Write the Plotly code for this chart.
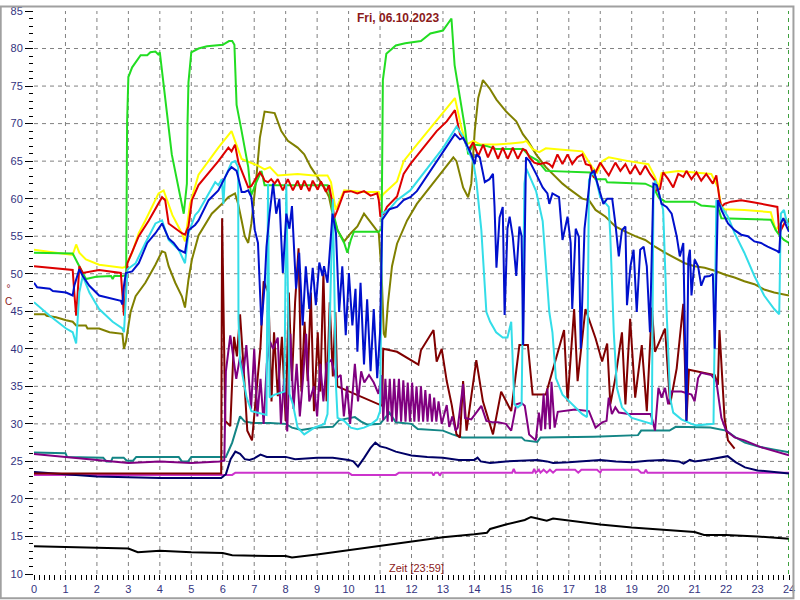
import plotly.graph_objects as go

# ---------------- data (hours, °C) ----------------
YELLOW_T = [0, 1.23, 1.34, 1.44, 1.65, 2.07, 2.81, 2.9, 3.12, 3.33, 3.54, 3.96, 4.12, 4.2, 4.4, 4.7, 4.8, 4.96, 5.12, 5.23,
            5.86, 6.28, 6.39, 6.5, 6.6, 7.12, 7.33, 7.5, 7.75, 8.38, 8.9, 9.33, 9.44, 9.59, 9.86, 10.49, 10.96, 11.01, 11.1,
            11.54, 11.75, 12.17, 12.59, 13.01, 13.38, 13.59, 13.75, 13.96, 14.2, 14.7, 15.54, 15.65, 15.85, 16.06, 16.27,
            16.8, 17.43, 17.74, 17.9, 18.06, 18.27, 18.9, 19.53, 19.74, 19.85, 19.95, 20.48, 21.0, 21.53, 21.74, 21.85,
            21.95, 22.58, 23.42, 23.58, 23.7, 23.84, 24]
YELLOW_V = [53.2, 52.5, 53.9, 52.8, 51.9, 51.2, 50.8, 50.9, 52.8, 55.4, 57.1, 60.7, 61.1, 60.2, 57.8, 55.4, 54.3, 59.3, 61.5, 63.2,
            66.8, 69.0, 67.7, 66.5, 65.3, 64.4, 63.9, 64.2, 63.1, 63.3, 63.1, 63.1, 62.2, 58.5, 61.1, 60.9, 60.9, 59.8, 60.6,
            62.3, 65.0, 67.2, 69.4, 71.6, 73.4, 69.4, 67.2, 67.7, 67.2, 67.2, 67.5, 67.7, 66.6, 66.2, 66.7,
            66.5, 66.3, 64.2, 63.5, 65.0, 65.5, 65.0, 64.6, 62.9, 61.5, 63.4, 63.7, 63.5, 63.3, 61.5, 58.9,
            58.6, 58.5, 58.2, 55.8, 56.5, 57.3, 57.0]

RED_T = [0, 1.23, 1.28, 1.34, 1.39, 1.44, 1.55, 2.07, 2.76, 2.81, 2.86, 2.97, 3.33, 3.65, 4.07, 4.17, 4.28, 4.7, 4.8, 4.91,
         5.02, 5.23, 5.86, 6.18, 6.28, 6.39, 6.5, 6.81, 6.91, 7.07, 7.18, 7.28, 7.33, 7.44, 7.54, 7.65, 7.75, 7.91, 8.07,
         8.23, 8.38, 8.49, 8.59, 8.75, 8.86, 9.02, 9.12, 9.28, 9.38, 9.49, 9.54, 9.65, 9.86, 10.07, 10.28, 10.49, 10.7,
         10.91, 10.96, 11.01, 11.12, 11.22, 11.54, 11.75, 11.96, 12.38, 12.8, 13.12, 13.38, 13.54, 13.7, 13.8, 13.96,
         14.12, 14.28, 14.43, 14.59, 14.75, 14.9, 15.06, 15.22, 15.38, 15.54, 15.64, 15.75, 15.9, 16.06, 16.27, 16.38,
         16.48, 16.64, 16.8, 16.96, 17.11, 17.27, 17.43, 17.54, 17.69, 17.8, 17.85, 18.0, 18.17, 18.27, 18.48, 18.64,
         18.8, 18.95, 19.11, 19.27, 19.43, 19.58, 19.74, 19.8, 19.9, 20.0, 20.16, 20.32, 20.48, 20.64, 20.74, 20.9,
         21.06, 21.21, 21.37, 21.58, 21.69, 21.79, 21.85, 21.95, 22.16, 22.48, 22.9, 23.42, 23.63, 23.69, 23.8, 23.9, 24]
RED_V = [51.0, 50.5, 47.5, 44.4, 47.5, 51.0, 50.1, 50.5, 50.1, 47.5, 44.4, 51.4, 55.0, 57.1, 60.2, 59.8, 56.7, 55.4, 55.2, 56.3,
         59.8, 61.8, 65.0, 66.8, 66.3, 67.2, 64.8, 61.5, 61.7, 62.8, 63.5, 62.9, 62.4, 62.2, 62.6, 62.0, 62.6, 61.1, 62.6,
         61.1, 62.4, 61.2, 62.4, 61.0, 62.4, 61.2, 62.3, 60.9, 61.8, 59.3, 57.4, 58.5, 60.9, 61.0, 60.7, 61.0, 60.4,
         60.7, 59.8, 57.6, 58.0, 58.9, 60.3, 63.3, 64.6, 66.8, 69.0, 70.3, 71.8, 68.6, 67.7, 66.4, 67.5,
         65.7, 67.2, 65.5, 67.0, 65.3, 66.8, 65.3, 66.8, 65.3, 66.6, 66.4, 65.5, 64.8, 64.6, 64.8, 64.6,
         64.2, 65.9, 64.6, 65.9, 64.6, 65.5, 65.9, 64.6, 64.4, 62.8, 63.5, 64.8, 63.7, 63.1, 64.8, 63.7,
         64.6, 63.3, 64.4, 63.2, 64.4, 63.3, 62.4, 61.1, 61.3, 63.5, 62.6, 61.5, 63.3, 62.9, 63.7, 62.6,
         63.5, 62.4, 63.3, 62.0, 63.1, 60.0, 58.9, 59.3, 59.6, 59.8, 59.5, 59.1, 58.9, 55.4, 56.3, 57.1, 56.7]

LIME_T = [0, 1.23, 1.44, 1.65, 1.97, 2.45, 2.5, 2.55, 2.81, 2.93, 2.96, 3.0, 3.12, 3.39, 3.6, 3.7, 3.86, 3.95, 4.0, 4.05,
          4.38, 4.76, 4.86, 4.88, 4.91, 5.0, 5.23, 5.5, 6.0, 6.2, 6.3, 6.37, 6.44, 6.6, 6.81, 6.9, 7.0, 7.07, 7.23, 7.33,
          9.33, 9.38, 9.49, 9.65, 9.86, 9.96, 10.07, 10.17, 10.96, 11.01, 11.05, 11.09, 11.2, 11.5, 11.8, 12.3, 12.6,
          13.0, 13.27, 13.37, 13.7, 13.8, 13.96, 14.4, 14.7, 15.54, 15.75, 16.0, 16.27, 17.69, 17.85, 18.17, 18.22,
          19.43, 19.69, 19.85, 20.06, 21.0, 21.21, 21.74, 21.85, 23.42, 23.58, 23.7, 23.84, 24]
LIME_V = [52.8, 52.7, 51.0, 49.3, 49.6, 49.7, 49.3, 49.7, 49.7, 49.8, 70.3, 76.2, 77.5, 79.1, 79.1, 79.5, 79.6, 79.2, 79.5, 77.8,
          65.9, 58.0, 62.0, 70.0, 75.5, 79.5, 80.0, 80.3, 80.5, 81.0, 81.0, 80.5, 72.5, 69.0, 64.2, 60.4, 61.5, 62.2, 63.7, 61.8,
          61.8, 61.1, 58.5, 55.8, 54.1, 52.8, 54.5, 55.6, 55.6, 55.8, 56.0, 75.8, 79.3, 80.4, 80.7, 81.0, 82.0,
          82.4, 84.0, 77.8, 69.4, 65.9, 67.2, 67.0, 66.6, 66.6, 65.7, 65.1, 63.7, 63.5, 62.6, 62.6, 62.2,
          62.0, 61.5, 60.2, 59.6, 59.6, 59.1, 58.9, 57.4, 57.2, 55.8, 55.1, 54.5, 54.1]

CYAN_T = [0, 0.5, 1.02, 1.23, 1.34, 1.44, 1.55, 1.76, 2.07, 2.5, 2.81, 2.86, 2.97, 3.23, 3.54, 3.86, 4.07, 4.28, 4.6, 4.8,
          4.91, 5.12, 5.23, 5.76, 5.86, 5.97, 6.02, 6.07, 6.28, 6.39, 6.49, 6.5, 6.55, 6.76, 6.91, 7.23, 7.39, 7.44, 7.49,
          7.65, 7.96, 8.02, 8.12, 8.23, 8.38, 8.59, 8.91, 9.23, 9.33, 9.44, 9.5, 9.6, 9.65, 9.86, 10.07, 10.28, 10.49,
          10.7, 10.91, 11.0, 11.07, 11.3, 11.54, 11.96, 12.59, 13.01, 13.43, 13.54, 13.64, 13.8, 13.96, 14.06, 14.22,
          14.38, 14.5, 14.69, 14.9, 15.05, 15.17, 15.27, 15.38, 15.5, 15.59, 15.65, 15.96, 16.17, 16.38, 16.48, 16.59,
          16.8, 17.11, 17.43, 17.58, 17.64, 17.75, 17.85, 18.0, 18.17, 18.27, 18.32, 18.43, 18.53, 18.69, 19.0, 19.32,
          19.64, 19.69, 19.74, 19.85, 20.0, 20.11, 20.22, 20.32, 20.58, 20.9, 21.06, 21.6, 21.69, 21.79, 22.06, 22.27,
          22.58, 22.9, 23.21, 23.53, 23.69, 23.74, 23.84, 23.9, 24]
CYAN_V = [46.2, 44.4, 42.7, 42.2, 40.7, 47.5, 49.7, 47.5, 45.3, 43.6, 42.7, 42.2, 50.6, 51.4, 54.1, 56.7, 57.1, 54.5, 53.2, 51.4,
          55.4, 57.8, 58.3, 62.2, 61.8, 62.6, 59.3, 62.8, 64.8, 65.0, 64.2, 44.0, 38.3, 33.5, 31.7, 31.3, 31.2, 62.0, 33.5,
          33.9, 34.3, 62.0, 34.0, 32.6, 29.5, 28.6, 29.5, 30.0, 31.3, 50.0, 60.0, 35.0, 30.8, 30.4, 29.5, 29.3, 29.5,
          29.9, 30.6, 31.7, 58.0, 58.6, 59.8, 61.1, 64.6, 66.8, 69.6, 68.9, 68.3, 66.4, 65.0, 62.4, 55.8,
          44.9, 43.6, 42.2, 41.5, 41.5, 43.6, 32.6, 32.2, 32.6, 62.0, 64.0, 61.0, 57.0, 44.9, 42.2, 36.1,
          33.9, 32.6, 31.3, 30.9, 62.5, 63.5, 62.9, 60.2, 59.3, 58.9, 55.0, 42.2, 34.8, 32.2, 30.8, 30.4,
          30.0, 60.0, 62.4, 61.0, 58.5, 45.0, 33.5, 31.5, 30.6, 30.0, 29.8, 30.0, 59.8, 59.3, 57.6, 55.4,
          52.8, 49.7, 47.1, 45.3, 44.6, 58.0, 58.5, 57.4, 56.3]

BLUE_T = [0, 0.1, 0.5, 0.6, 1.02, 1.23, 1.28, 1.44, 1.55, 1.76, 2.07, 2.3, 2.6, 2.76, 2.81, 2.86, 2.92, 3.12, 3.33, 3.6,
          3.86, 4.07, 4.28, 4.44, 4.6, 4.7, 4.8, 4.91, 5.12, 5.23, 5.55, 5.86, 6.18, 6.28, 6.44, 6.49, 6.6, 6.7, 6.81,
          6.91, 7.02, 7.12, 7.18, 7.23, 7.33, 7.39, 7.49, 7.6, 7.7, 7.8, 7.91, 8.02, 8.12, 8.2, 8.33, 8.43, 8.54, 8.64,
          8.75, 8.86, 8.96, 9.07, 9.17, 9.22, 9.33, 9.49, 9.6, 9.7, 9.8, 9.91, 10.01, 10.12, 10.22, 10.28, 10.38, 10.49,
          10.59, 10.7, 10.8, 10.91, 11.0, 11.07, 11.3, 11.54, 11.75, 11.96, 12.17, 12.59, 13.01, 13.38, 13.54, 13.64,
          13.8, 13.9, 14.01, 14.06, 14.17, 14.33, 14.48, 14.59, 14.64, 14.7, 14.8, 14.9, 14.96, 15.05, 15.12, 15.22,
          15.33, 15.43, 15.5, 15.55, 15.64, 15.75, 15.96, 16.17, 16.32, 16.38, 16.48, 16.69, 16.8, 16.96, 17.06, 17.11,
          17.22, 17.32, 17.38, 17.5, 17.69, 17.8, 17.85, 18.0, 18.1, 18.22, 18.38, 18.48, 18.59, 18.69, 18.8, 18.85,
          18.96, 19.06, 19.16, 19.27, 19.38, 19.48, 19.58, 19.69, 19.8, 19.95, 20.11, 20.27, 20.43, 20.53, 20.64, 20.74,
          20.8, 20.85, 20.9, 21.0, 21.11, 21.21, 21.32, 21.48, 21.58, 21.64, 21.74, 21.85, 22.06, 22.27, 22.48, 22.69,
          22.9, 23.11, 23.32, 23.63, 23.69, 23.74, 23.82, 23.92, 24]
BLUE_V = [48.8, 48.2, 48.0, 47.7, 47.5, 47.1, 48.4, 50.6, 49.7, 48.4, 47.1, 46.9, 46.6, 46.4, 45.9, 48.4, 50.1, 50.3, 51.4, 54.1,
          55.4, 56.7, 54.7, 54.1, 53.2, 53.0, 52.8, 55.8, 56.5, 57.1, 59.8, 61.1, 63.7, 64.2, 63.7, 62.9, 60.9, 60.9, 61.1,
          60.2, 55.8, 54.1, 48.4, 43.1, 48.4, 53.6, 58.0, 62.0, 58.0, 60.0, 50.1, 58.0, 56.0, 59.0, 48.0, 52.8, 43.1, 51.0,
          45.3, 50.8, 45.8, 51.5, 49.7, 51.0, 48.8, 58.0, 55.4, 44.9, 51.0, 41.8, 50.1, 43.1, 48.0, 39.6, 48.8, 37.9,
          46.6, 37.0, 45.3, 36.1, 42.2, 57.2, 58.6, 58.9, 59.8, 60.2, 61.0, 63.7, 66.4, 68.6, 67.9, 68.1,
          66.8, 65.9, 64.6, 65.9, 65.5, 62.2, 62.6, 63.3, 58.9, 50.8, 57.5, 58.9, 44.5, 56.0, 57.6, 54.9,
          49.7, 56.3, 55.0, 40.5, 65.5, 65.0, 63.3, 61.5, 60.7, 59.3, 60.7, 60.2, 54.5, 57.6, 54.1, 45.3,
          56.0, 54.9, 40.0, 56.0, 63.3, 63.7, 62.9, 60.7, 59.3, 60.0, 60.0, 56.7, 52.3, 55.8, 56.3, 45.8,
          51.0, 53.2, 44.9, 53.2, 53.6, 51.0, 42.2, 62.0, 61.8, 59.3, 58.9, 58.0, 55.0, 52.3, 54.1, 30.4,
          52.0, 53.2, 47.1, 51.9, 51.0, 48.4, 49.6, 49.7, 50.0, 40.0, 59.8, 58.5, 56.7, 55.8, 55.2, 55.0,
          54.3, 54.1, 53.6, 53.0, 52.8, 56.7, 57.4, 56.3, 55.6]

OLIVE_T = [0, 0.35, 0.4, 0.7, 1.02, 1.23, 1.34, 1.65, 1.7, 2.07, 2.4, 2.81, 2.86, 2.92, 3.07, 3.23, 3.54, 3.86, 4.07, 4.17,
           4.28, 4.49, 4.7, 4.8, 4.91, 5.02, 5.23, 5.65, 5.97, 6.18, 6.39, 6.49, 6.6, 6.7, 6.81, 6.91, 7.07, 7.18, 7.33,
           7.65, 7.86, 8.07, 8.38, 8.59, 8.8, 9.02, 9.23, 9.38, 9.49, 9.65, 9.86, 10.07, 10.28, 10.49, 10.64, 10.8, 10.96,
           11.05, 11.12, 11.17, 11.25, 11.38, 11.54, 11.86, 12.17, 12.59, 13.01, 13.33, 13.43, 13.64, 13.8, 13.9, 14.01,
           14.12, 14.27, 14.48, 14.7, 15.01, 15.33, 15.54, 15.7, 15.96, 16.27, 16.59, 16.8, 17.01, 17.22, 17.43, 17.64,
           17.8, 17.85, 18.17, 18.48, 18.8, 19.11, 19.43, 19.74, 20.06, 20.37, 20.69, 21.0, 21.32, 21.64, 21.95, 22.27,
           22.58, 22.9, 23.21, 23.53, 24]
OLIVE_V = [44.6, 44.6, 44.4, 44.2, 43.8, 43.6, 43.1, 43.1, 42.7, 42.7, 42.2, 42.0, 40.0, 40.9, 44.9, 47.0, 48.8, 51.2, 53.0, 52.8,
           51.0, 48.8, 47.0, 45.5, 49.2, 51.9, 55.1, 58.0, 59.3, 60.2, 60.7, 59.3, 57.1, 55.0, 54.1, 56.7, 62.9, 68.1, 71.6,
           71.4, 69.0, 67.7, 66.8, 65.9, 64.2, 62.9, 61.5, 60.2, 58.0, 55.8, 54.3, 55.4, 56.3, 58.0, 57.1, 56.3, 55.4,
           50.0, 42.0, 41.5, 46.0, 51.0, 54.0, 57.1, 59.3, 61.5, 63.7, 65.5, 65.0, 61.5, 60.2, 62.0, 69.0,
           73.4, 75.8, 74.7, 73.2, 71.6, 70.3, 68.6, 67.7, 65.9, 64.2, 62.8, 62.0, 61.3, 60.7, 60.0, 59.8,
           58.9, 58.5, 57.6, 56.3, 55.6, 55.0, 54.5, 53.6, 52.8, 52.1, 51.4, 51.0, 50.8, 50.4, 49.9, 49.5,
           49.0, 48.6, 47.9, 47.5, 47.1]

MAROON_T = [0, 5.95, 5.98, 6.03, 6.08, 6.24, 6.36, 6.45, 6.55, 6.65, 6.78, 6.93, 7.03, 7.2, 7.3, 7.45, 7.55, 7.63, 7.75, 7.88,
            8.0, 8.1, 8.2, 8.3, 8.41, 8.5, 8.6, 8.7, 8.8, 8.9, 9.02, 9.1, 9.2, 9.3, 9.4, 9.5, 9.58, 9.64, 11.07, 11.1,
            11.54, 12.22, 12.3, 12.7, 12.8, 12.96, 13.12, 13.28, 13.43, 13.54, 13.64, 13.75, 14.06, 14.27, 14.59, 14.85,
            15.17, 15.43, 15.7, 15.85, 16.27, 16.85, 16.96, 17.17, 17.28, 17.53, 17.85, 18.06, 18.22, 18.32, 18.48, 18.69,
            18.8, 18.95, 19.11, 19.32, 19.48, 19.64, 19.74, 20.06, 20.22, 20.43, 20.64, 20.74, 20.82, 21.64, 21.74, 21.79,
            21.95, 22.06, 22.27]
MAROON_V = [23.4, 23.4, 57.4, 46.2, 30.4, 29.7, 41.6, 39.0, 44.6, 38.3, 29.1, 27.8, 32.4, 40.3, 49.0, 47.5, 33.0, 42.2, 33.7, 41.6,
            30.4, 47.5, 35.7, 46.2, 53.4, 34.3, 43.6, 35.7, 47.5, 31.7, 42.2, 34.3, 50.1, 33.0, 46.2, 36.3, 44.9, 35.0, 32.4, 40.0,
            39.6, 37.9, 39.8, 42.5, 38.3, 40.0, 35.7, 32.5, 28.6, 28.2, 35.7, 29.1, 38.5, 33.0, 28.6, 34.3,
            31.7, 40.5, 40.5, 33.9, 33.9, 42.5, 33.0, 45.3, 35.7, 45.3, 41.4, 38.3, 40.7, 32.6, 36.1, 42.2,
            32.6, 44.0, 33.5, 40.5, 31.7, 45.5, 39.6, 42.7, 32.6, 37.4, 46.0, 30.4, 37.2, 36.5, 35.2, 42.5,
            30.8, 27.8, 26.7]

PURPLE_T = [0, 1, 2, 3, 4, 5, 5.9, 6.05, 6.1, 6.24, 6.43, 6.55, 6.65, 6.75, 6.9, 7.0, 7.1, 7.2, 7.3, 7.4, 7.5, 7.6, 7.75,
            7.85, 7.95, 8.05, 8.15, 8.25, 8.35, 8.45, 8.55, 8.65, 8.75, 8.9, 9.0, 9.1, 9.2, 9.3, 9.45, 9.6, 9.75, 9.85,
            9.95, 10.05, 10.2, 10.3, 10.4, 10.5, 10.65, 10.8, 10.95, 11.05, 11.1, 11.17, 11.24, 11.31, 11.38, 11.45,
            11.52, 11.6, 11.67, 11.74, 11.81, 11.88, 11.95, 12.02, 12.09, 12.16, 12.23, 12.3, 12.37, 12.44, 12.51,
            12.58, 12.65, 12.72, 12.79, 12.86, 12.96, 13.12, 13.2, 13.3, 13.4, 13.47, 13.64, 13.7, 13.9, 14.22,
            14.38, 14.6, 14.75, 15.0, 15.17, 15.33, 15.49, 15.6, 15.74, 15.85, 15.95, 16.05, 16.12, 16.2, 16.25,
            16.32, 16.4, 16.45, 16.55, 16.65, 16.8, 17.2, 17.64, 17.75, 17.85, 18.06, 18.2, 18.27, 18.37, 18.48,
            18.59, 18.9, 19.6, 19.64, 19.74, 19.85, 19.95, 20.06, 20.16, 20.27, 20.58, 20.9, 21.0, 21.11, 21.21,
            21.53, 21.69, 21.85, 22.0, 22.27, 22.58, 23.1, 23.63, 24]
PURPLE_V = [26.0, 25.6, 25.2, 24.8, 25.0, 24.8, 25.0, 25.1, 37.0, 41.8, 36.0, 39.0, 36.5, 40.5, 32.0, 40.0, 31.0, 36.0, 30.0, 38.0,
            41.0, 40.0, 41.5, 30.0, 36.0, 29.0, 42.0, 32.0, 38.0, 31.0, 36.0, 42.0, 33.0, 35.0, 31.0, 38.0, 33.0, 38.0,
            38.5, 36.0, 36.5, 31.0, 35.0, 30.0, 38.0, 33.0, 37.0, 35.5, 36.5, 35.5, 34.0, 36.5, 30.5, 36.0, 30.3, 36.0,
            30.3, 36.0, 30.3, 36.0, 30.3, 35.8, 30.3, 35.5, 30.3, 35.5, 30.3, 35.0, 30.3, 35.0, 30.3, 34.5, 30.3,
            34.0, 30.3, 33.5, 30.3, 33.0, 30.0, 32.5, 29.6, 31.0, 29.1, 29.5, 35.3, 30.8, 30.6, 32.4,
            30.4, 30.2, 30.2, 30.0, 29.1, 32.6, 32.8, 32.4, 28.6, 28.2, 27.8, 31.5, 29.1, 34.0, 29.3,
            34.7, 29.3, 35.6, 29.5, 31.6, 31.7, 31.9, 31.7, 30.4, 29.5, 30.2, 30.4, 33.5, 31.3, 32.2,
            31.5, 31.3, 31.3, 30.8, 29.1, 34.8, 33.5, 34.8, 32.6, 34.3, 34.3, 33.9, 33.0, 36.1, 36.8,
            36.5, 35.7, 30.8, 29.1, 28.2, 27.8, 26.9, 26.2, 25.8]

TEAL_T = [0, 1.0, 1.05, 2.2, 2.3, 2.45, 2.5, 2.85, 2.95, 3.15, 3.25, 4.6, 4.7, 4.9, 5.0, 6.1, 6.3, 6.55, 6.7, 7.0, 7.5, 8.0,
          8.2, 8.5, 9.0, 9.5, 9.7, 10.2, 10.4, 10.6, 11.0, 11.3, 11.5, 12.0, 12.2, 13.0, 13.3, 13.6, 15.5, 15.6, 16.0,
          16.1, 17.8, 19.0, 19.2, 19.3, 20.2, 20.4, 21.5, 22.0, 22.3, 22.6, 23.0, 23.5, 24]
TEAL_V = [26.2, 26.1, 25.6, 25.5, 25.0, 25.0, 25.5, 25.5, 25.1, 25.1, 25.6, 25.6, 25.0, 25.0, 25.6, 25.6, 27.5, 31.0, 30.3, 30.1, 30.1, 30.0,
          29.5, 29.2, 29.5, 29.6, 30.5, 30.9, 30.3, 29.9, 30.0, 31.5, 30.2, 30.0, 29.3, 29.1, 28.6, 28.2, 28.2, 27.8, 27.6,
          28.2, 28.3, 28.4, 28.5, 29.1, 29.1, 29.6, 29.5, 29.1, 28.2, 27.5, 27.0, 26.6, 26.2]

NAVY_T = [0, 1, 2, 3, 4, 5, 5.95, 6.1, 6.25, 6.4, 6.55, 6.7, 6.85, 7.0, 7.2, 7.4, 8.0, 8.3, 9.0, 9.5, 10.0, 10.15, 10.3, 10.5,
          10.7, 10.85, 11.0, 11.2, 11.5, 12.0, 12.5, 13.0, 13.5, 14.0, 14.1, 14.2, 14.5, 15.0, 15.5, 16.0, 16.3, 16.5,
          17.0, 17.5, 18.0, 18.5, 19.0, 19.5, 20.0, 20.5, 20.65, 20.85, 21.0, 21.5, 21.9, 22.05, 22.3, 22.6, 23.0, 23.5, 24]
NAVY_V = [23.6, 23.3, 23.0, 22.9, 22.8, 22.8, 22.8, 23.3, 25.3, 26.3, 26.0, 25.3, 25.2, 25.4, 25.9, 25.6, 25.6, 25.3, 25.5, 25.5, 25.2, 25.0, 24.3, 25.5,
          26.8, 27.5, 27.0, 26.8, 26.3, 25.8, 25.6, 25.5, 25.2, 25.2, 25.5, 25.0, 24.8, 25.0, 25.1, 25.2, 25.0, 24.8,
          24.9, 25.0, 25.2, 25.0, 24.9, 25.1, 25.2, 25.0, 24.7, 25.2, 25.0, 25.3, 25.6, 25.7, 24.9, 24.2, 23.8, 23.6, 23.4]

MAGENTA_T = [0, 6.3, 6.4, 10.0, 10.1, 11.5, 11.6, 12.65, 12.7, 12.75, 12.85, 12.9, 12.95, 15.2, 15.25, 15.3, 15.85, 15.9,
             15.95, 16.05, 16.1, 16.2, 16.3, 16.4, 16.5, 16.6, 17.2, 17.3, 17.4, 17.9, 18.0, 18.05, 19.2, 19.3, 19.4,
             19.45, 19.5, 24]
MAGENTA_V = [23.2, 23.2, 23.5, 23.5, 23.2, 23.2, 23.5, 23.5, 23.1, 23.5, 23.5, 23.1, 23.5, 23.5, 24.0, 23.5, 23.5, 24.0,
             23.5, 23.9, 23.5, 23.9, 23.5, 23.9, 23.5, 23.9, 23.9, 23.5, 23.9, 23.9, 23.5, 23.9, 23.9, 23.5, 23.5,
             23.9, 23.5, 23.5]

BLACK_T = [0, 1, 2, 3, 3.3, 4, 5, 6, 6.3, 7, 7.5, 8, 8.2, 9, 10, 11, 12, 13, 14, 14.4, 14.5, 15, 15.6, 15.8, 16, 16.3, 16.5,
           17, 18, 19, 20, 21, 21.3, 22, 23, 24]
BLACK_V = [13.7, 13.6, 13.4, 13.4, 12.9, 13.1, 12.9, 12.8, 12.5, 12.4, 12.4, 12.4, 12.2, 12.6, 13.2, 13.7, 14.3, 14.9, 15.3, 15.5, 16.0, 16.6,
           17.2, 17.6, 17.4, 17.1, 17.4, 17.1, 16.6, 16.2, 15.9, 15.6, 15.2, 15.2, 15.0, 14.7]

X_TICKS = list(range(0, 25))
Y_TICKS = list(range(10, 90, 5))
TITLE = "Fri, 06.10.2023"
X_LABEL = "Zeit [23:59]"
Y_LABEL = "°<br>C"

# ---------------- figure ----------------
series = [
    (BLACK_T, BLACK_V, "#000000"),
    (MAGENTA_T, MAGENTA_V, "#cc33cc"),
    (NAVY_T, NAVY_V, "#000066"),
    (TEAL_T, TEAL_V, "#138585"),
    (MAROON_T, MAROON_V, "#800000"),
    (PURPLE_T, PURPLE_V, "#800080"),
    (OLIVE_T, OLIVE_V, "#808000"),
    (YELLOW_T, YELLOW_V, "#ffff00"),
    (LIME_T, LIME_V, "#22dd22"),
    (RED_T, RED_V, "#dd0000"),
    (CYAN_T, CYAN_V, "#33dde8"),
    (BLUE_T, BLUE_V, "#0010cc"),
]

fig = go.Figure()
for t, v, c in series:
    fig.add_trace(go.Scatter(x=t, y=v, mode="lines", line=dict(color=c, width=2), showlegend=False, hoverinfo="skip"))

grid_style = dict(color="#808080", width=1, dash="4px,4px")
shapes = []
# inner dashed grid (no lines on the frame edges, like the reference)
for xt in X_TICKS[1:-1]:
    shapes.append(dict(type="line", xref="x", yref="paper", x0=xt, x1=xt, y0=0, y1=1, layer="below", line=grid_style))
for yt in Y_TICKS[1:-1]:
    shapes.append(dict(type="line", xref="paper", yref="y", x0=0, x1=1, y0=yt, y1=yt, layer="below", line=grid_style))
shapes.append(dict(type="line", xref="x", yref="paper", x0=24, x1=24, y0=0, y1=1,
                   line=dict(color="#008000", width=1.5, dash="4px,4px")))
shapes.append(dict(type="rect", xref="paper", yref="paper", x0=-0.0441, x1=1.0059, y0=-0.0430, y1=1.0079,
                   line=dict(color="#a0a0a0", width=2)))

tickfont = dict(family="Arial, Liberation Sans, sans-serif", size=11, color="#333380")
fig.update_layout(
    width=800, height=600,
    margin=dict(l=34, r=5, t=5, b=25),
    paper_bgcolor="white", plot_bgcolor="white",
    xaxis=dict(range=[0, 24], tickvals=X_TICKS, ticktext=[str(t) for t in X_TICKS],
               showgrid=False, ticks="outside", ticklen=5, tickcolor="black", zeroline=False, showline=False,
               tickfont=tickfont, ticklabeloverflow="allow",
               minor=dict(dtick=1/6, tick0=0, ticks="outside", ticklen=5, tickcolor="black", showgrid=False)),
    yaxis=dict(range=[10, 85], tickvals=Y_TICKS, ticktext=[str(t) for t in Y_TICKS],
               showgrid=False, ticks="outside", ticklen=8, tickcolor="black", zeroline=False, showline=False,
               tickfont=tickfont, ticklabeloverflow="allow",
               minor=dict(dtick=1, tick0=10, ticks="outside", ticklen=4, tickcolor="black", showgrid=False)),
    shapes=shapes,
    annotations=[
        dict(text="<b>" + TITLE + "</b>", xref="paper", yref="paper", x=0.482, y=0.988, yanchor="middle",
             showarrow=False,
             font=dict(family="Arial, Liberation Sans, sans-serif", size=12, color="#8b1a1a")),
        dict(text=X_LABEL, xref="paper", yref="paper", x=0.506, y=0.011, yanchor="middle", showarrow=False,
             font=dict(family="Arial, Liberation Sans, sans-serif", size=11, color="#8b1a1a")),
        dict(text=Y_LABEL, xref="paper", yref="paper", x=-0.041, y=0.495, yanchor="middle", showarrow=False,
             font=dict(family="Arial, Liberation Sans, sans-serif", size=10, color="#8b1a1a")),
    ],
)

fig.write_html("out.html", config={"displayModeBar": False},
               post_script="document.body.style.margin='0px';")
